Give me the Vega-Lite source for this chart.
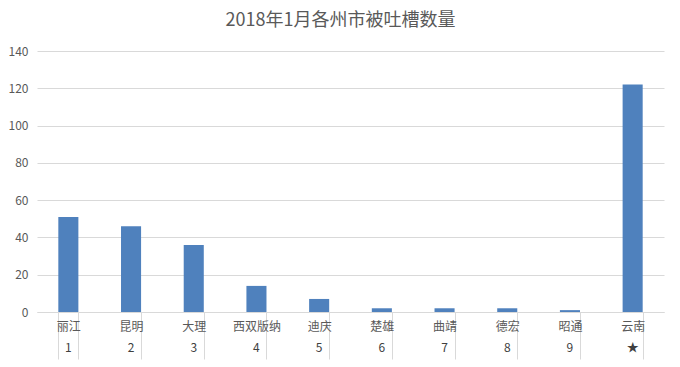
{
  "$schema": "https://vega.github.io/schema/vega-lite/v6.json",
  "width": 627,
  "height": 261,
  "autosize": {"type": "none"},
  "padding": {"left": 37, "top": 51, "right": 16, "bottom": 55},
  "background": "white",
  "title": {
    "text": "2018年1月各州市被吐槽数量",
    "fontSize": 18,
    "font": "Noto Sans CJK SC",
    "fontWeight": "normal",
    "color": "#595959",
    "anchor": "middle",
    "dx": -10,
    "offset": 15
  },
  "config": {
    "view": {"stroke": null},
    "axis": {"labelFont": "Noto Sans CJK SC", "labelColor": "#595959"}
  },
  "data": {
    "values": [
      {"name": "丽江", "rank": "1", "count": 51},
      {"name": "昆明", "rank": "2", "count": 46},
      {"name": "大理", "rank": "3", "count": 36},
      {"name": "西双版纳", "rank": "4", "count": 14},
      {"name": "迪庆", "rank": "5", "count": 7},
      {"name": "楚雄", "rank": "6", "count": 2},
      {"name": "曲靖", "rank": "7", "count": 2},
      {"name": "德宏", "rank": "8", "count": 2},
      {"name": "昭通", "rank": "9", "count": 1},
      {"name": "云南", "rank": "★", "count": 122}
    ]
  },
  "layer": [
    {
      "mark": {"type": "bar", "color": "#4f81bd"},
      "encoding": {
        "x": {
          "field": "name",
          "type": "nominal",
          "sort": null,
          "scale": {"paddingInner": 0.68, "paddingOuter": 0.34},
          "axis": {
            "title": null,
            "orient": "bottom",
            "labelAngle": 0,
            "labelFontSize": 12,
            "domainColor": "#d9d9d9",
            "tickColor": "#d9d9d9",
            "tickSize": 47,
            "tickBand": "extent",
            "labelPadding": -38
          }
        },
        "y": {
          "field": "count",
          "type": "quantitative",
          "scale": {"domain": [0, 140]},
          "axis": {
            "title": null,
            "values": [0, 20, 40, 60, 80, 100, 120, 140],
            "labelOverlap": false,
            "domain": false,
            "ticks": false,
            "labelPadding": 9,
            "labelFontSize": 12,
            "gridColor": "#d9d9d9"
          }
        }
      }
    },
    {
      "mark": {"type": "bar", "opacity": 0},
      "encoding": {
        "x": {
          "field": "rank",
          "type": "nominal",
          "sort": null,
          "scale": {"paddingInner": 0.68, "paddingOuter": 0.34},
          "axis": {
            "title": null,
            "orient": "bottom",
            "labelAngle": 0,
            "labelFontSize": 12,
            "labelColor": "#404040",
            "domain": false,
            "ticks": false,
            "labelPadding": 30
          }
        },
        "y": {
          "field": "count",
          "type": "quantitative",
          "scale": {"domain": [0, 140]},
          "axis": {
            "title": null,
            "values": [0, 20, 40, 60, 80, 100, 120, 140],
            "labelOverlap": false,
            "domain": false,
            "ticks": false,
            "labelPadding": 9,
            "labelFontSize": 12,
            "gridColor": "#d9d9d9"
          }
        }
      }
    }
  ],
  "resolve": {"scale": {"x": "independent"}}
}
